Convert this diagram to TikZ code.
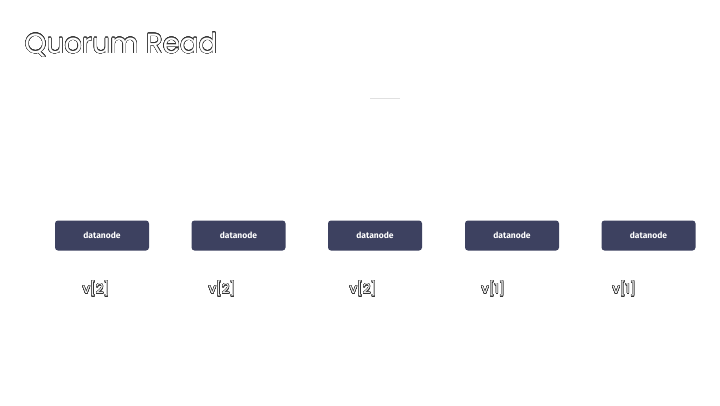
\documentclass[tikz,border=0pt]{standalone}
\usepackage{fontspec}
\setmainfont{Poppins}
\newfontfamily\notefont{Fira Sans}
\usepackage{contour}
\contourlength{0.4pt}
\contournumber{24}
\usetikzlibrary{positioning}
\definecolor{nodebg}{HTML}{3D4160}
\definecolor{inkline}{HTML}{333333}
\newcommand{\hollow}[1]{\contour{inkline}{\textcolor{white}{#1}}}
\tikzset{
	dnode/.style={fill=nodebg,rounded corners=3pt,minimum width=94pt,minimum height=30pt,
		text=white,font=\notefont\bfseries\fontsize{8.5}{10}\selectfont,inner sep=0pt},
	vlabel/.style={font=\fontsize{13.5}{15}\selectfont,inner sep=0pt}
}
\begin{document}
\begin{tikzpicture}[>=stealth,x=1pt,y=-1pt]
	\useasboundingbox (0,0) rectangle (720,405);
	\fill[white] (0,0) rectangle (720,405);
	% title
	\node[anchor=west,inner sep=0pt,font=\fontsize{27.7}{30}\selectfont] (title) at (24.5,45) {\hollow{Quorum Read}};
	% faint marks up top
	\draw[black!12,line width=0.6pt] (370,98) -- (400,98);
	% data nodes
	\node[dnode] (dn1) at (102,235.5) {datanode};
	\node[dnode] (dn2) at (238.5,235.5) {datanode};
	\node[dnode] (dn3) at (375,235.5) {datanode};
	\node[dnode] (dn4) at (512,235.5) {datanode};
	\node[dnode] (dn5) at (648.5,235.5) {datanode};
	% versions
	\node[vlabel] (v1) at (96,289) {\hollow{v[2]}};
	\node[vlabel] (v2) at (222,289) {\hollow{v[2]}};
	\node[vlabel] (v3) at (363,289) {\hollow{v[2]}};
	\node[vlabel] (v4) at (493,289) {\hollow{v[1]}};
	\node[vlabel] (v5) at (624,289) {\hollow{v[1]}};
\end{tikzpicture}
\end{document}
